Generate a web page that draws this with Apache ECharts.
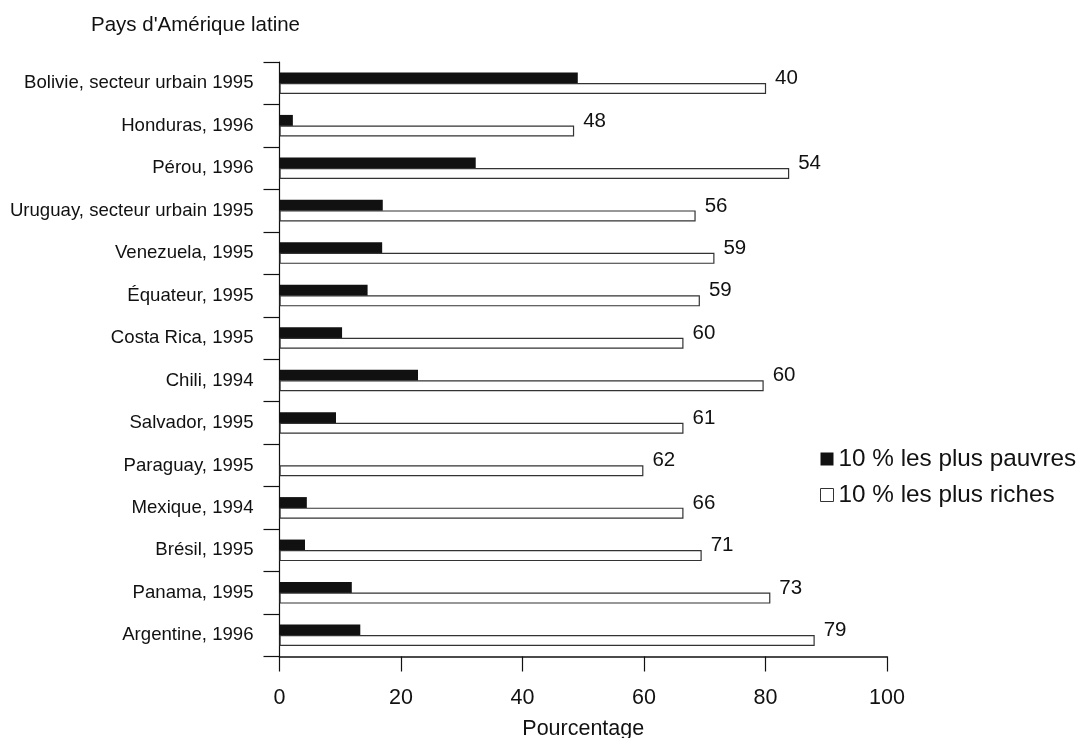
<!DOCTYPE html>
<html>
<head>
<meta charset="utf-8">
<title>Pays d'Amérique latine</title>
<script src="https://cdn.jsdelivr.net/npm/echarts@6/dist/echarts.min.js"></script>
<style>
  html, body { margin: 0; padding: 0; background: #fff; }
  #chart { width: 1083px; height: 738px; }
</style>
</head>
<body>
<div id="chart"></div>
<script>
// Countries, top to bottom
const categories = [
  'Bolivie, secteur urbain 1995',
  'Honduras, 1996',
  'Pérou, 1996',
  'Uruguay, secteur urbain 1995',
  'Venezuela, 1995',
  'Équateur, 1995',
  'Costa Rica, 1995',
  'Chili, 1994',
  'Salvador, 1995',
  'Paraguay, 1995',
  'Mexique, 1994',
  'Brésil, 1995',
  'Panama, 1995',
  'Argentine, 1996'
];

// Percentages for the poorest and richest 10 %
const poorest = [49.1, 2.2, 32.3, 17.0, 16.9, 14.5, 10.3, 22.8, 9.3, 0, 4.5, 4.2, 11.9, 13.3];
const richest = [80.1, 48.5, 83.9, 68.5, 71.6, 69.2, 66.5, 79.7, 66.5, 59.9, 66.5, 69.5, 80.8, 88.1];

// Figures printed at the end of each pair of bars
const endFigures = [40, 48, 54, 56, 59, 59, 60, 60, 61, 62, 66, 71, 73, 79];

// X axis ticks
const xTicks = [0, 20, 40, 60, 80, 100];

const FONT = "'Liberation Sans', Arial, Helvetica, sans-serif";
const chart = echarts.init(document.getElementById('chart'), null, { renderer: 'canvas' });

chart.setOption({
  animation: false,
  backgroundColor: '#ffffff',
  textStyle: { fontFamily: FONT, color: '#111' },
  title: {
    text: "Pays d'Amérique latine",
    left: 86,
    top: 10,
    textStyle: { fontFamily: FONT, fontSize: 20.5, fontWeight: 'normal', color: '#111' }
  },
  legend: {
    orient: 'vertical',
    left: 815,
    top: 442,
    itemWidth: 13,
    itemHeight: 13,
    itemGap: 12,
    textStyle: { fontFamily: FONT, fontSize: 24.3, color: '#111' },
    data: [
      { name: '10 % les plus pauvres', icon: 'rect', itemStyle: { color: '#111', borderWidth: 0 } },
      { name: '10 % les plus riches', icon: 'rect', itemStyle: { color: '#fff', borderColor: '#333', borderWidth: 1 } }
    ]
  },
  grid: {
    left: 279.5, right: 196, top: 62, bottom: 81.5,
    containLabel: false,
    outerBoundsMode: 'none'
  },
  xAxis: {
    type: 'value',
    min: xTicks[0],
    max: xTicks[xTicks.length - 1],
    interval: 20,
    name: 'Pourcentage',
    nameLocation: 'middle',
    nameGap: 62,
    nameTextStyle: { fontFamily: FONT, fontSize: 21.5, color: '#111' },
    axisLine: { show: true, lineStyle: { color: '#111', width: 1.5 } },
    axisTick: { show: true, length: 15, inside: false, lineStyle: { color: '#111', width: 1.2 } },
    axisLabel: { margin: 31, fontFamily: FONT, fontSize: 21.5, color: '#111' },
    splitLine: { show: false }
  },
  yAxis: {
    type: 'category',
    inverse: true,
    data: categories,
    axisLine: { show: true, lineStyle: { color: '#111', width: 1.2 } },
    axisTick: { show: true, length: 16, lineStyle: { color: '#111', width: 1.2 } },
    axisLabel: {
      margin: 26,
      fontFamily: FONT,
      fontSize: 18.6,
      color: '#111',
      padding: [0, 0, 15, 0]
    }
  },
  series: [
    {
      name: '10 % les plus pauvres',
      type: 'bar',
      data: poorest,
      barWidth: 11,
      barGap: '-4%',
      itemStyle: { color: '#111' },
      silent: true
    },
    {
      name: '10 % les plus riches',
      type: 'bar',
      data: richest,
      barWidth: 11,
      itemStyle: { color: '#fff', borderColor: '#333', borderWidth: 1.2 },
      label: {
        show: true,
        position: 'right',
        distance: 9,
        offset: [0, -10],
        fontFamily: FONT,
        fontSize: 20.5,
        color: '#111',
        formatter: (p) => String(endFigures[p.dataIndex])
      },
      silent: true
    }
  ]
});
</script>
</body>
</html>
